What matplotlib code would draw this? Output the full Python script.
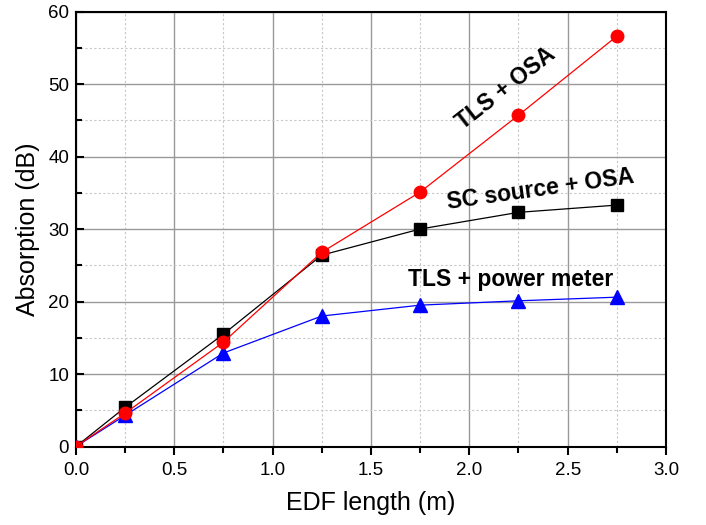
import matplotlib
matplotlib.use("Agg")
import matplotlib.pyplot as plt
from matplotlib.ticker import MultipleLocator

plt.rcParams['font.family'] = ['Liberation Sans', 'DejaVu Sans']

length = [0.0, 0.25, 0.75, 1.25, 1.75, 2.25, 2.75]
sc_osa = [0.0, 5.4, 15.5, 26.4, 30.0, 32.3, 33.3]
tls_osa = [0.0, 4.6, 14.4, 26.8, 35.1, 45.7, 56.6]
tls_pm = [0.0, 4.3, 12.9, 18.0, 19.5, 20.1, 20.6]

fig = plt.figure(figsize=(7.06, 5.25), dpi=100)
ax = fig.add_axes([0.1076, 0.1495, 0.8357, 0.8285])

ax.plot(length, sc_osa, color='black', lw=0.9, marker='s', ms=8, zorder=3)
ax.plot(length, tls_osa, color='#ff0000', lw=0.9, marker='o', ms=9, zorder=4)
ax.plot(length, tls_pm, color='#0000ff', lw=0.9, marker='^', ms=9.5, zorder=3)

ax.set_xlim(0, 3.0)
ax.set_ylim(0, 60)
ax.xaxis.set_major_locator(MultipleLocator(0.5))
ax.xaxis.set_minor_locator(MultipleLocator(0.25))
ax.yaxis.set_major_locator(MultipleLocator(10))
ax.yaxis.set_minor_locator(MultipleLocator(5))

ax.grid(which='major', color='#999999', lw=1.0, ls='-', zorder=0)
ax.grid(which='minor', color='#c8c8c8', lw=0.8, ls=(0, (2, 2)), zorder=0)
ax.set_axisbelow(True)

for s in ax.spines.values():
    s.set_linewidth(1.5)
ax.tick_params(axis='x', which='both', direction='out', width=1.5, labelsize=13.5, pad=5)
ax.tick_params(axis='x', which='major', length=6)
ax.tick_params(axis='x', which='minor', length=4)
ax.tick_params(axis='y', which='both', direction='in', width=1.5, labelsize=13.5, pad=5)
ax.tick_params(axis='y', which='major', length=6)
ax.tick_params(axis='y', which='minor', length=4)
ax.xaxis.set_major_formatter(matplotlib.ticker.FormatStrFormatter('%.1f'))

ax.set_xlabel('EDF length (m)', fontsize=18, labelpad=9)
ax.set_ylabel('Absorption (dB)', fontsize=18, labelpad=6)

ax.text(2.186, 49.4, 'TLS + OSA', fontsize=16.5, fontweight='bold', rotation=38,
        rotation_mode='anchor', ha='center', va='center')
ax.text(2.36, 35.4, 'SC source + OSA', fontsize=16.5, fontweight='bold', rotation=8,
        rotation_mode='anchor', ha='center', va='center')
ax.text(2.209, 23.1, 'TLS + power meter', fontsize=16.5, fontweight='bold',
        ha='center', va='center')

fig.savefig('out.png', dpi=100)
